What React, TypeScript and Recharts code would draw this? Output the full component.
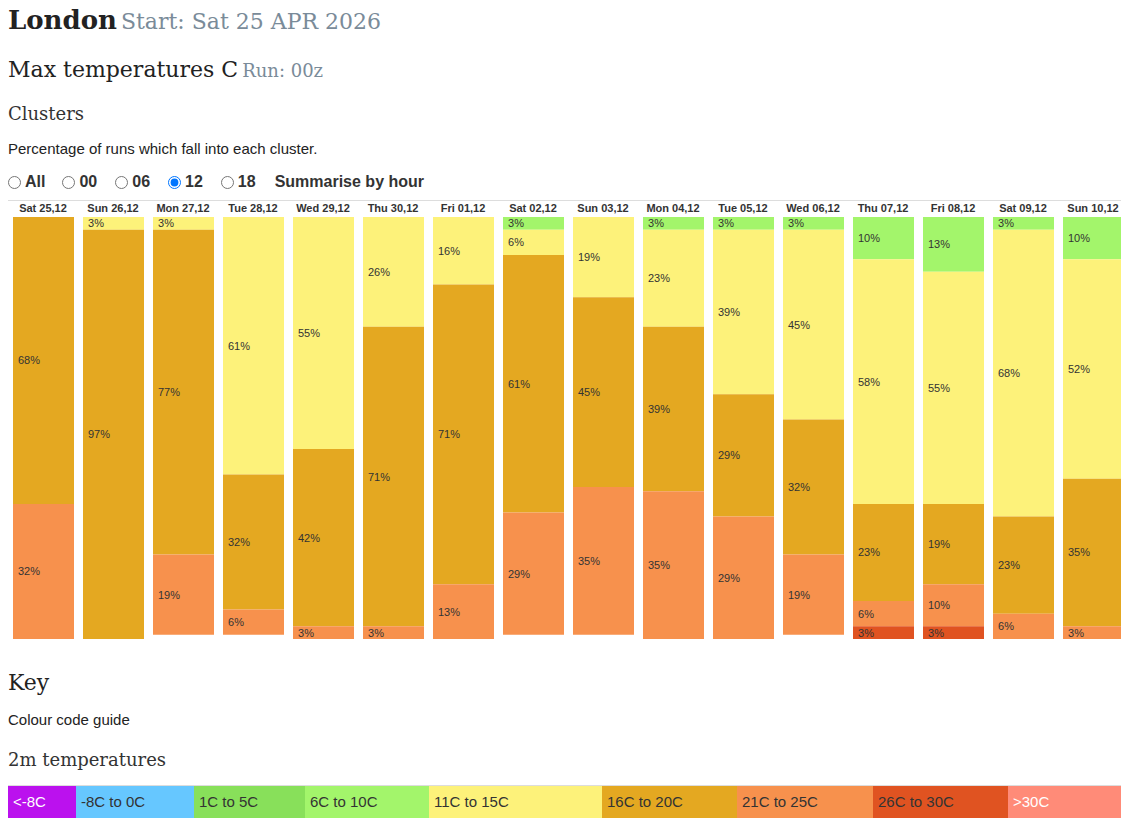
import React from "react";
import { BarChart, Bar, XAxis, YAxis, LabelList } from "recharts";

const days = [
  "Sat 25,12", "Sun 26,12", "Mon 27,12", "Tue 28,12", "Wed 29,12", "Thu 30,12",
  "Fri 01,12", "Sat 02,12", "Sun 03,12", "Mon 04,12", "Tue 05,12", "Wed 06,12",
  "Thu 07,12", "Fri 08,12", "Sat 09,12", "Sun 10,12",
];

// percentage of runs per temperature band, one entry per day
const c6to10 = [0, 0, 0, 0, 0, 0, 0, 3, 0, 3, 3, 3, 10, 13, 3, 10];
const c11to15 = [0, 3, 3, 61, 55, 26, 16, 6, 19, 23, 39, 45, 58, 55, 68, 52];
const c16to20 = [68, 97, 77, 32, 42, 71, 71, 61, 45, 39, 29, 32, 23, 19, 23, 35];
const c21to25 = [32, 0, 19, 6, 3, 3, 13, 29, 35, 35, 29, 19, 6, 10, 6, 3];
const c26to30 = [0, 0, 0, 0, 0, 0, 0, 0, 0, 0, 0, 0, 3, 3, 0, 0];

const bands = [
  { key: "c6to10", color: "#a3f56b" },
  { key: "c11to15", color: "#fdf27a" },
  { key: "c16to20", color: "#e4a821" },
  { key: "c21to25", color: "#f7914d" },
  { key: "c26to30", color: "#e05321" },
];

const keyLabels = [
  "<-8C", "-8C to 0C", "1C to 5C", "6C to 10C", "11C to 15C",
  "16C to 20C", "21C to 25C", "26C to 30C", ">30C",
];
const keyColors = [
  "#bb11ee", "#66c7ff", "#88e05a", "#a3f56b", "#fdf27a",
  "#e4a821", "#f7914d", "#e05321", "#ff8b78",
];
const keyText = ["#fff", "#333", "#333", "#333", "#333", "#333", "#333", "#333", "#fff"];
const keyWidths = [68, 118, 111, 124, 173, 135, 136, 135, 120];

const rows = days.map((day, i) => ({
  day,
  c6to10: c6to10[i],
  c11to15: c11to15[i],
  c16to20: c16to20[i],
  c21to25: c21to25[i],
  c26to30: c26to30[i],
}));

const serif = "'DejaVu Serif', serif";
const sans = "Arial, 'Liberation Sans', sans-serif";

const SegmentLabel = (props: any) => {
  const { x, y, height, value } = props;
  if (!value) return null;
  return (
    <text
      x={x + 5}
      y={y + height / 2}
      dy={4}
      fontSize={11}
      fontFamily={sans}
      fill="#333"
    >
      {value}%
    </text>
  );
};

const DayTick = (props: any) => {
  const { x, y, payload } = props;
  return (
    <text
      x={x}
      y={y}
      textAnchor="middle"
      fontSize={11}
      fontWeight="bold"
      fontFamily={sans}
      fill="#333"
    >
      {payload.value}
    </text>
  );
};

function Radio({ label, checked, gap }: { label: string; checked?: boolean; gap: number }) {
  return (
    <span style={{ display: "inline-flex", alignItems: "center", marginRight: gap }}>
      <input
        type="radio"
        name="hour"
        checked={!!checked}
        readOnly
        style={{ margin: "0 4px 0 0", width: 13, height: 13 }}
      />
      <b>{label}</b>
    </span>
  );
}

export default function App() {
  return (
    <div style={{ position: "relative", width: 1120, height: 817, color: "#222" }}>
      <div style={{ position: "absolute", top: -6, left: 0, lineHeight: "36px", whiteSpace: "nowrap" }}>
        <span style={{ fontFamily: serif, fontWeight: "bold", fontSize: 26 }}>London</span>{" "}
        <span style={{ fontFamily: serif, fontSize: 22, color: "#7a8b99" }}>Start: Sat 25 APR 2026</span>
      </div>

      <div style={{ position: "absolute", top: 47, left: 0, lineHeight: "30px", whiteSpace: "nowrap" }}>
        <span style={{ fontFamily: serif, fontSize: 22 }}>Max temperatures C</span>{" "}
        <span style={{ fontFamily: serif, fontSize: 18, color: "#7a8b99" }}>Run: 00z</span>
      </div>

      <div style={{ position: "absolute", top: 94, left: 0, lineHeight: "24px", fontFamily: serif, fontSize: 18, color: "#333" }}>
        Clusters
      </div>

      <div style={{ position: "absolute", top: 131, left: 0, lineHeight: "20px", fontFamily: sans, fontSize: 15 }}>
        Percentage of runs which fall into each cluster.
      </div>

      <div style={{ position: "absolute", top: 164, left: 0, lineHeight: "20px", fontFamily: sans, fontSize: 16, display: "flex", alignItems: "center", color: "#333" }}>
        <Radio label="All" gap={17} />
        <Radio label="00" gap={18} />
        <Radio label="06" gap={18} />
        <Radio label="12" checked gap={18} />
        <Radio label="18" gap={19} />
        <b>Summarise by hour</b>
      </div>

      <div style={{ position: "absolute", top: 192, left: 0, borderTop: "1px solid #ddd" }}>
        <BarChart
          width={1120}
          height={443}
          data={rows}
          margin={{ top: 0, right: 0, bottom: 5, left: 0 }}
        >
          <XAxis
            dataKey="day"
            orientation="top"
            height={16}
            axisLine={false}
            tickLine={false}
            tickSize={0}
            tickMargin={5}
            interval={0}
            tick={<DayTick />}
          />
          <YAxis hide domain={[0, 100]} reversed width={0} />
          {bands.map((b) => (
            <Bar
              key={b.key}
              dataKey={b.key}
              stackId="runs"
              fill={b.color}
              barSize={61}
              isAnimationActive={false}
            >
              <LabelList dataKey={b.key} content={<SegmentLabel />} />
            </Bar>
          ))}
        </BarChart>
      </div>

      <div style={{ position: "absolute", top: 659, left: 0, lineHeight: "32px", fontFamily: serif, fontSize: 22, color: "#222" }}>
        Key
      </div>

      <div style={{ position: "absolute", top: 702, left: 0, lineHeight: "20px", fontFamily: sans, fontSize: 15 }}>
        Colour code guide
      </div>

      <div style={{ position: "absolute", top: 739, left: 0, lineHeight: "26px", fontFamily: serif, fontSize: 18, color: "#333" }}>
        2m temperatures
      </div>

      <div style={{ position: "absolute", top: 777, left: 0, width: 1120, display: "flex", borderTop: "1px solid #ddd" }}>
        {keyLabels.map((label, i) => (
          <div
            key={label}
            style={{
              width: keyWidths[i],
              flexShrink: 0,
              background: keyColors[i],
              color: keyText[i],
              fontFamily: sans,
              fontSize: 15,
              lineHeight: "32px",
              paddingLeft: 5,
              boxSizing: "border-box",
              whiteSpace: "nowrap",
            }}
          >
            {label}
          </div>
        ))}
      </div>
    </div>
  );
}
